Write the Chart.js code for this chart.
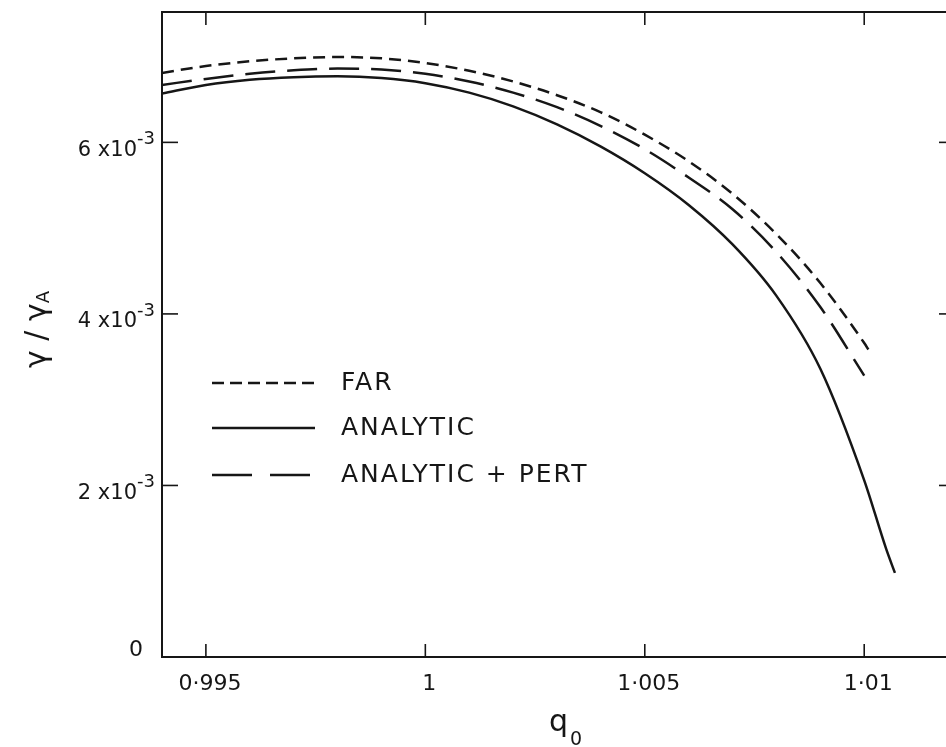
<!DOCTYPE html>
<html>
<head>
<meta charset="utf-8">
<script src="https://cdn.jsdelivr.net/npm/chart.js@4.4.1/dist/chart.umd.min.js"></script>
<style>
  html, body { margin: 0; padding: 0; background: #fff; overflow: hidden; }
  canvas { display: block; }
</style>
</head>
<body>
<canvas id="chart" width="1000" height="747"></canvas>
<script>
// q0 sample points, y in units of 1e-3
const qGrid = [0.994, 0.995, 0.996, 0.997, 0.998, 0.999, 1.000, 1.001, 1.002,
               1.003, 1.004, 1.005, 1.006, 1.007, 1.008, 1.009, 1.010]

const farQ = [...qGrid, 1.0101]
const farValues = [6.81, 6.89, 6.945, 6.98, 6.995, 6.98, 6.925, 6.835, 6.71,
                   6.55, 6.35, 6.09, 5.78, 5.40, 4.93, 4.36, 3.66, 3.58]

const analyticQ = [...qGrid, 1.0105, 1.0107]
const analyticValues = [6.57, 6.67, 6.73, 6.76, 6.77, 6.75, 6.69, 6.58, 6.42,
                        6.21, 5.95, 5.64, 5.27, 4.81, 4.21, 3.36, 2.06, 1.26, 0.98]

const pertQ = [...qGrid]
const pertValues = [6.67, 6.74, 6.80, 6.84, 6.86, 6.85, 6.80, 6.71, 6.58,
                    6.41, 6.19, 5.92, 5.59, 5.22, 4.72, 4.08, 3.28]

const xTicks = [0.995, 1.000, 1.005, 1.010]
const xTickLabels = ["0·995", "1", "1·005", "1·01"]
const yTicks = [0, 2, 4, 6]
const yTickLabels = ["0", "2 x10", "4 x10", "6 x10"]
const yTickExponent = "-3"

const seriesNames = ["FAR", "ANALYTIC", "ANALYTIC + PERT"]

const INK = "#161616"
const FONT = "'DejaVu Sans', sans-serif"
const TICK = 13

const toPoints = (qs, vs) => qs.map((q, i) => ({ x: q, y: vs[i] }))

// frame, inward ticks, labels, titles and the in-plot legend
const decorations = {
  id: "decorations",
  afterDatasetsDraw(chart) {
    const { ctx, chartArea: a, scales: { x, y } } = chart
    const line = (x1, y1, x2, y2) => {
      ctx.beginPath(); ctx.moveTo(x1, y1); ctx.lineTo(x2, y2); ctx.stroke()
    }
    ctx.save()
    ctx.strokeStyle = INK
    ctx.fillStyle = INK
    ctx.lineWidth = 2
    // left, top and bottom sides; the right side falls outside the page
    ctx.beginPath()
    ctx.moveTo(a.right, a.top)
    ctx.lineTo(a.left, a.top)
    ctx.lineTo(a.left, a.bottom)
    ctx.lineTo(a.right, a.bottom)
    ctx.stroke()

    ctx.lineWidth = 1.6
    xTicks.forEach(v => {
      const px = x.getPixelForValue(v)
      line(px, a.bottom, px, a.bottom - TICK)
      line(px, a.top, px, a.top + TICK)
    })
    yTicks.forEach(v => {
      if (v === 0) return
      const py = y.getPixelForValue(v)
      line(a.left, py, a.left + TICK + 3, py)
      line(a.right, py, a.right - TICK, py)
    })

    // x tick labels
    ctx.font = `22px ${FONT}`
    ctx.textAlign = "center"
    ctx.textBaseline = "middle"
    xTicks.forEach((v, i) => {
      ctx.fillText(xTickLabels[i], x.getPixelForValue(v) + 4, a.bottom + 27)
    })

    // y tick labels with superscript exponent
    yTicks.forEach((v, i) => {
      const py = y.getPixelForValue(v)
      if (v === 0) {
        ctx.font = `22px ${FONT}`
        ctx.textAlign = "right"
        ctx.fillText(yTickLabels[i], a.left - 19, py - 7)
        return
      }
      ctx.font = `21px ${FONT}`
      ctx.textAlign = "right"
      ctx.fillText(yTickLabels[i], a.left - 25, py + 8)
      ctx.font = `18px ${FONT}`
      ctx.textAlign = "left"
      ctx.fillText(yTickExponent, a.left - 25, py - 3)
    })

    // x axis title q0
    ctx.textAlign = "left"
    ctx.textBaseline = "alphabetic"
    ctx.font = `30px ${FONT}`
    ctx.fillText("q", 549, 731)
    ctx.font = `19px ${FONT}`
    ctx.fillText("0", 570, 745)

    // y axis title gamma / gamma_A
    ctx.save()
    ctx.translate(46, 368)
    ctx.rotate(-Math.PI / 2)
    ctx.font = `30px ${FONT}`
    ctx.fillText("γ / γ", 0, 0)
    const w = ctx.measureText("γ / γ").width
    ctx.font = `18px ${FONT}`
    ctx.fillText("A", w, 3)
    ctx.restore()

    // legend
    const legendX1 = a.left + 50, legendX2 = a.left + 153
    const rows = [383, 428, 475]
    const dashes = [[12, 6], [], [40, 18]]
    ctx.font = `25px ${FONT}`
    ctx.letterSpacing = "2px"
    ctx.textBaseline = "middle"
    rows.forEach((ry, i) => {
      ctx.lineWidth = 2.5
      ctx.setLineDash(dashes[i])
      line(legendX1, ry, legendX2, ry)
      ctx.setLineDash([])
      ctx.fillText(seriesNames[i], a.left + 179, ry)
    })
    ctx.restore()
  }
}

const lineStyle = {
  borderColor: INK,
  borderWidth: 2.5,
  pointRadius: 0,
  fill: false,
  cubicInterpolationMode: "monotone"
}

new Chart(document.getElementById("chart"), {
  type: "line",
  data: {
    datasets: [
      { label: seriesNames[0], data: toPoints(farQ, farValues), borderDash: [12, 7], ...lineStyle },
      { label: seriesNames[1], data: toPoints(analyticQ, analyticValues), ...lineStyle },
      { label: seriesNames[2], data: toPoints(pertQ, pertValues), borderDash: [30, 12], ...lineStyle }
    ]
  },
  options: {
    responsive: false,
    animation: false,
    layout: { padding: { left: 162, top: 12, right: 48, bottom: 90 } },
    plugins: { legend: { display: false }, tooltip: { enabled: false } },
    scales: {
      x: {
        type: "linear",
        min: 0.994,
        max: 1.012,
        grid: { display: false, drawTicks: false },
        border: { display: false },
        ticks: { display: false }
      },
      y: {
        type: "linear",
        min: 0,
        max: 7.52,
        grid: { display: false, drawTicks: false },
        border: { display: false },
        ticks: { display: false }
      }
    }
  },
  plugins: [decorations]
})
</script>
</body>
</html>
